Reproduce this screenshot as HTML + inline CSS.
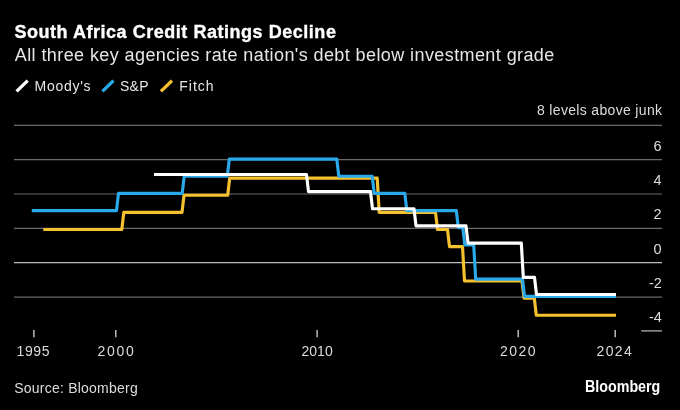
<!DOCTYPE html>
<html><head><meta charset="utf-8">
<style>
html,body{margin:0;padding:0;background:#000;}
body{width:680px;height:410px;overflow:hidden;position:relative;}
svg{position:absolute;left:0;top:0;will-change:transform;}
text{font-family:"Liberation Sans",sans-serif;}
.t{font-size:18px;font-weight:bold;fill:#fff;stroke:#fff;stroke-width:0.35px;}
.st{font-size:18px;fill:#e6e6e6;}
.lg{font-size:14px;fill:#e6e6e6;}
.ax{font-size:14px;fill:#dcdcdc;}
.yl{font-size:14.5px;fill:#dcdcdc;}
.src{font-size:14px;fill:#dcdcdc;}
.logo{font-size:16px;font-weight:bold;fill:#fff;}
</style></head>
<body>
<svg width="680" height="410" viewBox="0 0 680 410">
<rect width="680" height="410" fill="#000"/>
<line x1="16.6" y1="91.4" x2="27.7" y2="80.6" stroke="#fff" stroke-width="3.3"/>
<line x1="102.4" y1="91.4" x2="113.5" y2="80.6" stroke="#2aa9eb" stroke-width="3.3"/>
<line x1="160.9" y1="91.4" x2="172" y2="80.6" stroke="#f5c12e" stroke-width="3.3"/>
<line x1="14" y1="125.3" x2="662" y2="125.3" stroke="#6a6a6a" stroke-width="1.2"/>
<line x1="14" y1="159.7" x2="662" y2="159.7" stroke="#6a6a6a" stroke-width="1.2"/>
<line x1="14" y1="194.0" x2="662" y2="194.0" stroke="#6a6a6a" stroke-width="1.2"/>
<line x1="14" y1="228.3" x2="662" y2="228.3" stroke="#6a6a6a" stroke-width="1.2"/>
<line x1="14" y1="262.7" x2="662" y2="262.7" stroke="#bdbdbd" stroke-width="1.2"/>
<line x1="14" y1="297.2" x2="662" y2="297.2" stroke="#6a6a6a" stroke-width="1.2"/>
<line x1="641.2" y1="330.9" x2="662" y2="330.9" stroke="#bdbdbd" stroke-width="1.2"/>
<line x1="33.9" y1="330.0" x2="33.9" y2="337.2" stroke="#d8d8d8" stroke-width="1.3"/>
<line x1="115.8" y1="330.0" x2="115.8" y2="337.2" stroke="#d8d8d8" stroke-width="1.3"/>
<line x1="317.1" y1="330.0" x2="317.1" y2="337.2" stroke="#d8d8d8" stroke-width="1.3"/>
<line x1="518.2" y1="330.0" x2="518.2" y2="337.2" stroke="#d8d8d8" stroke-width="1.3"/>
<line x1="615.2" y1="330.0" x2="615.2" y2="337.2" stroke="#d8d8d8" stroke-width="1.3"/>
<text x="14.40" y="38.30" class="t" textLength="321.50" lengthAdjust="spacing">South Africa Credit Ratings Decline</text>
<text x="14.80" y="60.50" class="st" textLength="539.50" lengthAdjust="spacing">All three key agencies rate nation's debt below investment grade</text>
<text x="34.60" y="90.60" class="lg" textLength="56.00" lengthAdjust="spacing">Moody's</text>
<text x="120.00" y="90.60" class="lg" textLength="28.50" lengthAdjust="spacing">S&amp;P</text>
<text x="179.20" y="90.60" class="lg" textLength="34.40" lengthAdjust="spacing">Fitch</text>
<text x="537.00" y="114.80" class="ax" textLength="125.00" lengthAdjust="spacing">8 levels above junk</text>
<text x="653.50" y="150.60" class="yl">6</text>
<text x="653.50" y="184.60" class="yl">4</text>
<text x="653.50" y="219.10" class="yl">2</text>
<text x="653.50" y="253.50" class="yl">0</text>
<text x="648.90" y="287.80" class="yl">-2</text>
<text x="648.90" y="321.90" class="yl">-4</text>
<text x="16.60" y="356.20" class="ax" textLength="32.90" lengthAdjust="spacing">1995</text>
<text x="97.50" y="356.20" class="ax" textLength="36.40" lengthAdjust="spacing">2000</text>
<text x="301.50" y="356.20" class="ax" textLength="31.20" lengthAdjust="spacing">2010</text>
<text x="500.00" y="356.20" class="ax" textLength="35.50" lengthAdjust="spacing">2020</text>
<text x="596.60" y="356.20" class="ax" textLength="35.20" lengthAdjust="spacing">2024</text>
<text x="14.20" y="393.30" class="src" textLength="123.50" lengthAdjust="spacing">Source: Bloomberg</text>
<text x="585.00" y="391.70" class="logo" textLength="75.30" lengthAdjust="spacingAndGlyphs">Bloomberg</text>
<path d="M43.30,229.50 L121.80,229.50 L123.80,212.35 L182.00,212.35 L184.00,195.20 L227.70,195.20 L229.70,178.05 L377.20,178.05 L379.20,212.35 L435.50,212.35 L437.50,229.50 L447.50,229.50 L449.50,246.65 L462.50,246.65 L464.50,280.95 L522.00,280.95 L524.00,298.10 L534.30,298.10 L536.30,315.25 L616.00,315.25" fill="none" stroke="#f5c12e" stroke-width="3.15" stroke-linejoin="round"/>
<path d="M31.80,210.55 L116.50,210.55 L118.50,193.40 L182.20,193.40 L184.20,176.25 L227.30,176.25 L229.30,159.10 L336.80,159.10 L338.80,176.25 L372.20,176.25 L374.20,193.40 L404.80,193.40 L406.80,210.55 L456.30,210.55 L458.30,227.70 L462.80,227.70 L464.80,244.85 L473.70,244.85 L475.70,279.15 L522.50,279.15 L524.50,296.30 L616.00,296.30" fill="none" stroke="#2aa9eb" stroke-width="3.15" stroke-linejoin="round"/>
<path d="M154.00,174.45 L306.50,174.45 L308.50,191.60 L370.50,191.60 L372.50,208.75 L414.00,208.75 L416.00,225.90 L466.00,225.90 L468.00,243.05 L521.30,243.05 L523.30,277.35 L534.50,277.35 L536.50,294.50 L616.00,294.50" fill="none" stroke="#ffffff" stroke-width="3.15" stroke-linejoin="round"/>
</svg>
</body></html>
